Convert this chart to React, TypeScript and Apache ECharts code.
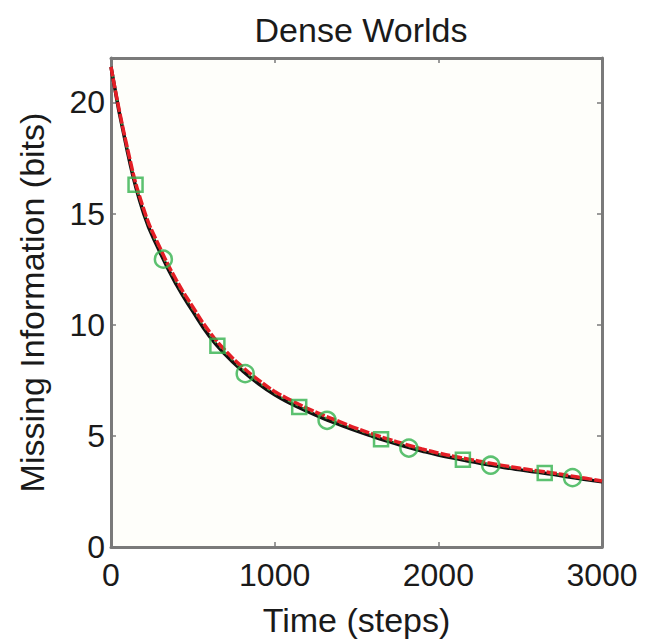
import React, { useEffect, useRef } from "react";
import * as echarts from "echarts";

const timeSteps = [0, 100, 200, 300, 400, 500, 600, 700, 800, 900, 1000, 1100, 1200, 1300, 1400, 1500, 1600, 1700, 1800, 1900, 2000, 2100, 2200, 2300, 2400, 2500, 2600, 2700, 2800, 2900, 3000];
const blackValues = [21.6, 17.8, 15.0, 13.25, 11.8, 10.6, 9.5, 8.65, 7.95, 7.35, 6.85, 6.45, 6.1, 5.78, 5.5, 5.22, 4.97, 4.74, 4.52, 4.32, 4.14, 3.99, 3.85, 3.71, 3.58, 3.47, 3.37, 3.27, 3.15, 3.04, 2.93];
const redValues = [21.6, 17.95, 15.2, 13.45, 12.0, 10.8, 9.7, 8.83, 8.12, 7.52, 7.0, 6.6, 6.24, 5.92, 5.63, 5.34, 5.08, 4.84, 4.62, 4.41, 4.23, 4.07, 3.93, 3.79, 3.66, 3.54, 3.43, 3.33, 3.21, 3.09, 2.97];
const greenValues = [21.6, 17.88, 15.1, 13.35, 11.9, 10.7, 9.6, 8.74, 8.03, 7.43, 6.92, 6.52, 6.17, 5.85, 5.56, 5.28, 5.02, 4.79, 4.57, 4.36, 4.18, 4.03, 3.89, 3.75, 3.62, 3.5, 3.4, 3.3, 3.18, 3.06, 2.95];
const squareTimes = [150, 650, 1150, 1650, 2150, 2650];
const squareValues = [16.3, 9.05, 6.3, 4.85, 3.93, 3.33];
const circleTimes = [320, 820, 1320, 1820, 2320, 2820];
const circleValues = [12.95, 7.8, 5.7, 4.45, 3.68, 3.12];
const xTicks = [0, 1000, 2000, 3000];
const yTicks = [0, 5, 10, 15, 20];

const FONT = "'Liberation Sans', Arial, Helvetica, sans-serif";

export default function App() {
  const ref = useRef<HTMLDivElement>(null);
  useEffect(() => {
    document.body.style.margin = "0";
    if (!ref.current) return;
    const chart = echarts.init(ref.current, null, { renderer: "svg" });
    const pair = (xs: number[], ys: number[]) => xs.map((x, i) => [x, ys[i]]);
    const axisGrey = "#7a7a7a";
    chart.setOption({
      animation: false,
      backgroundColor: "#ffffff",
      title: {
        text: "Dense Worlds",
        left: 356,
        textAlign: "center",
        top: 8,
        textStyle: { fontFamily: FONT, fontSize: 34, fontWeight: "normal", color: "#1a1a1a" },
      },
      grid: {
        left: 111,
        right: 43,
        top: 58,
        bottom: 92,
        show: true,
        backgroundColor: "#fefefa",
        borderColor: axisGrey,
        borderWidth: 0,
      },
      xAxis: [
        {
          type: "value",
          min: 0,
          max: 3000,
          interval: 1000,
          name: "Time (steps)",
          nameLocation: "middle",
          nameGap: 56,
          nameTextStyle: { fontFamily: FONT, fontSize: 34, color: "#1a1a1a" },
          axisLine: { show: true, onZero: false, lineStyle: { color: axisGrey, width: 3 } },
          axisTick: { show: true, inside: true, length: 5, lineStyle: { color: axisGrey, width: 1.5 } },
          axisLabel: { fontFamily: FONT, fontSize: 32, color: "#1a1a1a", margin: 12, formatter: (v: number) => (xTicks.includes(v) ? String(v) : "") },
          splitLine: { show: false },
        },
        {
          type: "value",
          position: "top",
          min: 0,
          max: 3000,
          interval: 1000,
          axisLine: { show: true, onZero: false, lineStyle: { color: axisGrey, width: 3 } },
          axisTick: { show: true, inside: true, length: 5, lineStyle: { color: axisGrey, width: 1.5 } },
          axisLabel: { show: false },
          splitLine: { show: false },
        },
      ],
      yAxis: [
        {
          type: "value",
          min: 0,
          max: 22,
          interval: 5,
          name: "Missing Information (bits)",
          nameLocation: "middle",
          nameGap: 62,
          nameTextStyle: { fontFamily: FONT, fontSize: 34, color: "#1a1a1a" },
          axisLine: { show: true, onZero: false, lineStyle: { color: axisGrey, width: 3 } },
          axisTick: { show: true, inside: true, length: 5, lineStyle: { color: axisGrey, width: 1.5 } },
          axisLabel: { fontFamily: FONT, fontSize: 32, color: "#1a1a1a", margin: 6, showMaxLabel: false, formatter: (v: number) => (yTicks.includes(v) ? String(v) : "") },
          splitLine: { show: false },
        },
        {
          type: "value",
          position: "right",
          min: 0,
          max: 22,
          interval: 5,
          axisLine: { show: true, onZero: false, lineStyle: { color: axisGrey, width: 3 } },
          axisTick: { show: true, inside: true, length: 5, lineStyle: { color: axisGrey, width: 1.5 } },
          axisLabel: { show: false },
          splitLine: { show: false },
        },
      ],
      series: [
        {
          type: "line",
          data: pair(timeSteps, blackValues),
          smooth: true,
          symbol: "none",
          lineStyle: { color: "#111111", width: 3.5 },
          z: 2,
        },
        {
          type: "line",
          data: pair(timeSteps, greenValues),
          smooth: true,
          symbol: "none",
          lineStyle: { color: "#2fae4a", width: 2, type: [3, 5] },
          z: 3,
        },
        {
          type: "line",
          data: pair(timeSteps, redValues),
          smooth: true,
          symbol: "none",
          lineStyle: { color: "#e41e26", width: 3.5, type: [10, 2] },
          z: 4,
        },
        {
          type: "scatter",
          data: pair(squareTimes, squareValues),
          symbol: "rect",
          symbolSize: 14,
          itemStyle: { color: "rgba(0,0,0,0)", borderColor: "#33b24e", borderWidth: 2.5 },
          z: 5,
        },
        {
          type: "scatter",
          data: pair(circleTimes, circleValues),
          symbol: "circle",
          symbolSize: 17,
          itemStyle: { color: "rgba(0,0,0,0)", borderColor: "#33b24e", borderWidth: 2.5 },
          z: 5,
        },
      ],
    });
    return () => chart.dispose();
  }, []);
  return <div ref={ref} style={{ width: 645, height: 642 }} />;
}
